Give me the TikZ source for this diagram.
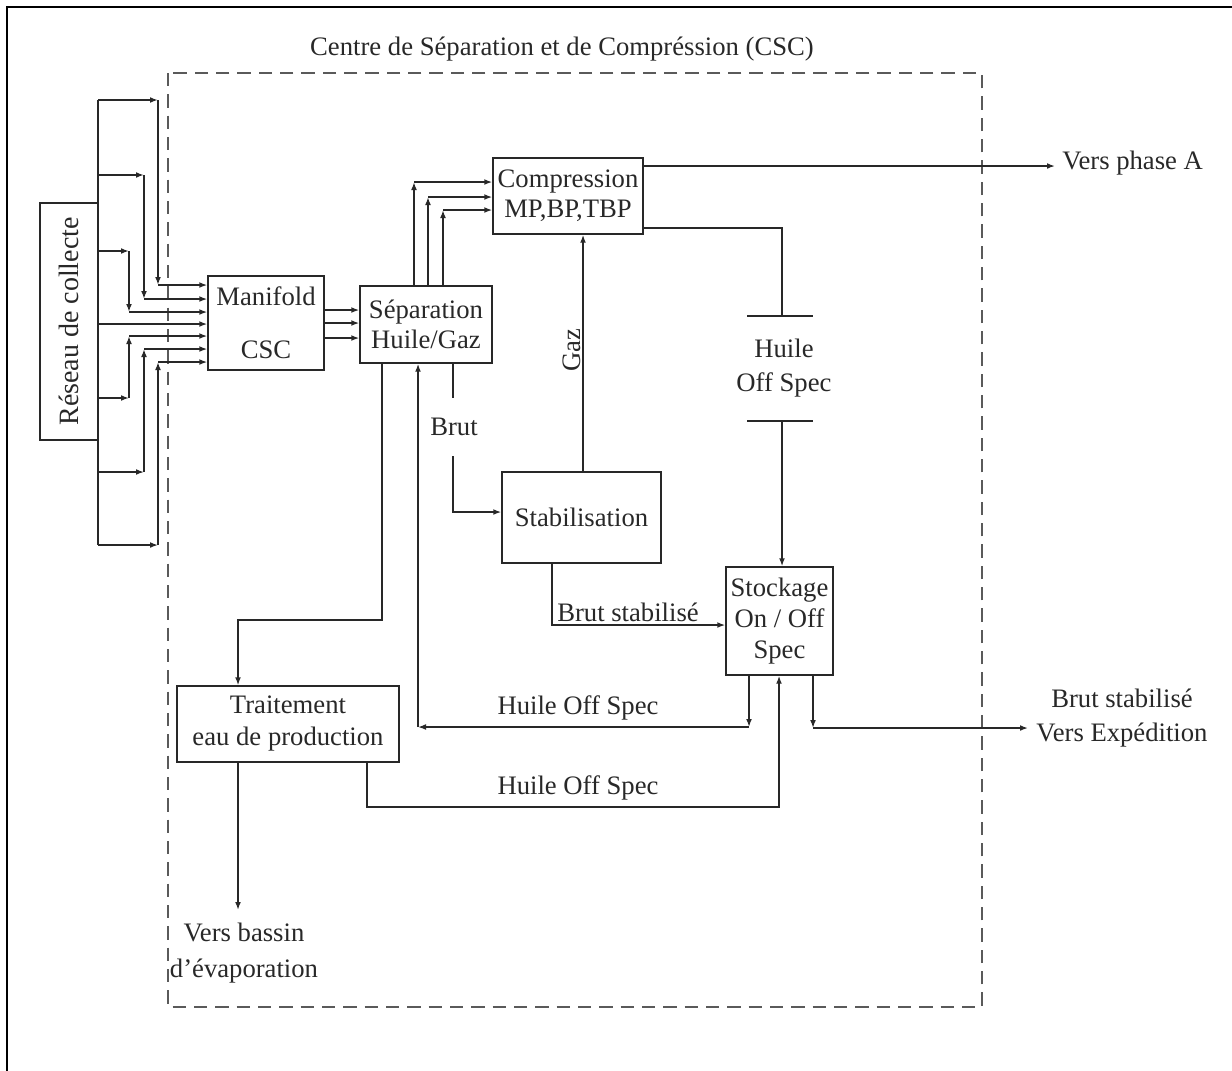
\documentclass[tikz,border=0pt]{standalone}
\usepackage{fontspec}
\setmainfont{Liberation Serif}
\usetikzlibrary{arrows.meta,calc}
\definecolor{ink}{RGB}{40,40,40}
\definecolor{dashc}{RGB}{90,90,90}
\begin{document}
\begin{tikzpicture}[x=0.75pt,y=-0.75pt,
  every node/.style={text=ink},
  box/.style={draw=ink, line width=1.1pt, inner sep=0pt, align=center},
  ln/.style={draw=ink, line width=1.1pt},
  arr/.style={ln, -{Latex[length=6pt,width=4.4pt]}},
  lbl/.style={inner sep=0pt, align=center},
  font=\fontsize{20}{23}\selectfont]
\useasboundingbox (0,0) rectangle (1232,1071);
% outer frame
\draw[line width=2.2pt, black] (7,1075) -- (7,7) -- (1236,7);
% CSC boundary
\draw[dashc, line width=1.1pt, dash pattern=on 10pt off 6pt] (168,73) rectangle (982,1007);
\node[lbl] (title) at (562,49) {Centre de Séparation et de Compréssion (CSC)};

% boxes
\node[box, rotate=90, minimum width=177.75pt, minimum height=43.5pt, font=\fontsize{21}{23}\selectfont] (reseau) at (69,321.5) {Réseau de collecte};
\node[box, minimum width=87pt, minimum height=70.5pt, font=\fontsize{20}{40}\selectfont] (manifold) at (266,323) {Manifold\\CSC};
\node[box, minimum width=99pt, minimum height=57.75pt, font=\fontsize{20}{22.5}\selectfont] (sep) at (426,324.5) {Séparation\\Huile/Gaz};
\node[box, minimum width=112.5pt, minimum height=57pt, font=\fontsize{20}{22.5}\selectfont] (comp) at (568,196) {Compression\\MP,BP,TBP};
\node[box, minimum width=119.25pt, minimum height=68.25pt] (stab) at (581.5,517.5) {Stabilisation};
\node[box, minimum width=80.25pt, minimum height=81pt, font=\fontsize{20}{23.5}\selectfont] (stock) at (779.5,621) {Stockage\\On / Off\\Spec};
\node[box, minimum width=166.5pt, minimum height=57pt, font=\fontsize{20}{24}\selectfont] (trait) at (288,724) {Traitement\\eau de production};

% collecting network
\coordinate (tT) at (98,100);
\coordinate (tB) at (98,545);
\draw[ln] (tT) -- (tB);
\foreach \yb/\xc/\yi in {100/158/285, 175/144/299, 251/129/312, 398/129/336, 472/144/349, 545/158/362} {
  \draw[arr] (98,\yb) -- (\xc,\yb);
  \draw[arr] (\xc,\yb) -- (\xc,\yi);
  \draw[arr] (\xc,\yi) -- (manifold.west |- 0,\yi);
}
\draw[arr] (98,324) -- (manifold.west |- 0,324);

% manifold -> separation
\foreach \y in {310,323,338} \draw[arr] (manifold.east |- 0,\y) -- (sep.west |- 0,\y);

% separation -> compression
\foreach \x/\y in {414/182, 428/197, 443/210} {
  \draw[arr] (sep.north -| \x,0) -- (\x,\y);
  \draw[arr] (\x,\y) -- (comp.west |- 0,\y);
}

% compression -> phase A
\node[lbl, anchor=west] (phA) at (1062,163) {Vers phase A};
\coordinate (phAin) at (1055,166);
\draw[arr] (comp.east |- phAin) -- (phAin);

% compression -> huile off spec -> stockage
\coordinate (hk1) at (782,228);
\coordinate (hbT) at (782,316);
\coordinate (hbB) at (782,421);
\draw[ln] (comp.east |- hk1) -- (hk1) -- (hbT);
\draw[ln] (747,316) -- (813,316);
\draw[ln] (747,421) -- (813,421);
\node[lbl, font=\fontsize{20}{25}\selectfont] (hos) at (784,368) {Huile\\Off Spec};
\draw[arr] (hbB) -- (stock.north -| hbB);

% gaz
\draw[arr] (stab.north -| 583,0) -- (comp.south -| 583,0);
\node[lbl, rotate=90] (gaz) at (572,350) {Gaz};

% separation -> traitement
\coordinate (st1) at (382,620);
\coordinate (st2) at (238,620);
\draw[arr] (sep.south -| st1) -- (st1) -- (st2) -- (trait.north -| st2);

% brut -> stabilisation
\coordinate (b0) at (453,398);
\coordinate (b0b) at (453,456);
\coordinate (b1) at (453,512);
\draw[ln] (sep.south -| b1) -- (b0);
\node[lbl] (brut) at (454,427) {Brut};
\draw[arr] (b0b) -- (b1) -- (stab.west |- b1);

% stabilisation -> stockage
\coordinate (bs1) at (552,625);
\draw[arr] (stab.south -| bs1) -- (bs1) -- (stock.west |- bs1);
\node[lbl] (bslbl) at (628,612) {Brut stabilisé};

% stockage -> separation (off spec return)
\coordinate (r1) at (749,727);
\coordinate (r2) at (418,727);
\draw[arr] (stock.south -| r1) -- (r1);
\draw[arr] (r1) -- (r2);
\draw[arr] (r2) -- (sep.south -| r2);
\node[lbl] (hos2) at (578,708) {Huile Off Spec};

% traitement -> stockage
\coordinate (t1) at (367,807);
\coordinate (t2) at (779,807);
\draw[arr] (trait.south -| t1) -- (t1) -- (t2) -- (stock.south -| t2);
\node[lbl] (hos3) at (578,788) {Huile Off Spec};

% stockage -> expedition
\coordinate (e1) at (813,728);
\coordinate (e2) at (1028,728);
\draw[arr] (stock.south -| e1) -- (e1);
\draw[arr] (e1) -- (e2);
\node[lbl, font=\fontsize{20}{26}\selectfont] (exp) at (1122,718) {Brut stabilisé\\Vers Expédition};

% traitement -> bassin
\coordinate (bas) at (238,910);
\draw[arr] (trait.south -| bas) -- (bas);
\node[lbl, font=\fontsize{20}{27}\selectfont] (bassin) at (244,953) {Vers bassin\\d’évaporation};
\end{tikzpicture}
\end{document}
